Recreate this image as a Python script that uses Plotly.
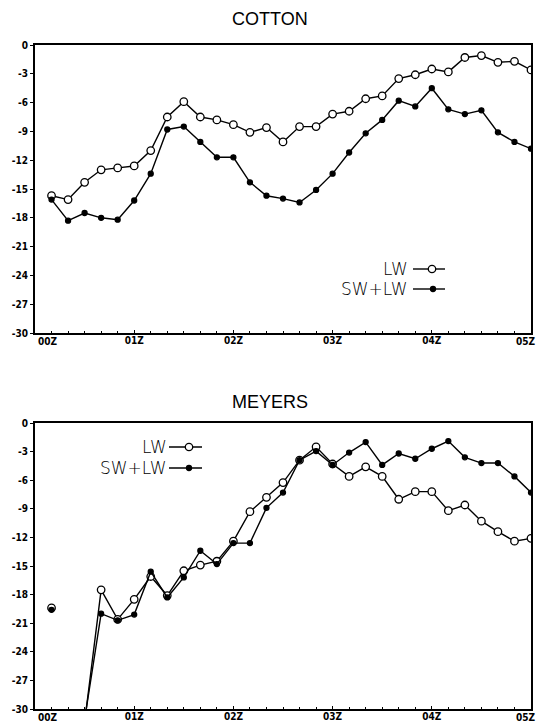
import plotly.graph_objects as go

W, H = 539, 724

# time labels (every 10 minutes, 00:10 .. 05:00)
times = ["00:10", "00:20", "00:30", "00:40", "00:50", "01:00", "01:10", "01:20", "01:30", "01:40",
         "01:50", "02:00", "02:10", "02:20", "02:30", "02:40", "02:50", "03:00", "03:10", "03:20",
         "03:30", "03:40", "03:50", "04:00", "04:10", "04:20", "04:30", "04:40", "04:50", "05:00"]

cotton_lw = [-15.7, -16.1, -14.3, -13.0, -12.8, -12.6, -11.0, -7.5, -5.9, -7.5,
             -7.8, -8.3, -9.1, -8.6, -10.1, -8.5, -8.5, -7.2, -6.9, -5.6,
             -5.3, -3.5, -3.1, -2.5, -2.8, -1.3, -1.1, -1.8, -1.7, -2.6]
cotton_swlw = [-16.1, -18.3, -17.5, -18.0, -18.2, -16.2, -13.4, -8.8, -8.5, -10.1,
               -11.7, -11.7, -14.3, -15.7, -16.0, -16.4, -15.1, -13.4, -11.2, -9.2,
               -7.8, -5.8, -6.4, -4.5, -6.7, -7.2, -6.8, -9.1, -10.1, -10.8]

meyers_lw = [-19.4, None, -31.4, -17.5, -20.6, -18.5, -16.1, -18.1, -15.5, -14.9,
             -14.5, -12.4, -9.3, -7.8, -6.25, -3.9, -2.5, -4.3, -5.6, -4.6,
             -5.6, -8.0, -7.2, -7.2, -9.2, -8.6, -10.3, -11.4, -12.4, -12.1]
meyers_swlw = [-19.6, None, -31.1, -20.0, -20.7, -20.1, -15.6, -18.3, -16.2, -13.4,
               -14.8, -12.6, -12.6, -8.9, -7.3, -3.9, -2.95, -4.4, -3.1, -2.0,
               -4.4, -3.2, -3.75, -2.7, -1.9, -3.6, -4.2, -4.2, -5.6, -7.3]

x_tickvals = [0, 1, 2, 3, 4, 5]
x_ticktext = ["00Z", "01Z", "02Z", "03Z", "04Z", "05Z"]
y_tickvals = [0, -3, -6, -9, -12, -15, -18, -21, -24, -27, -30]
y_ticktext = ["0", "-3", "-6", "-9", "-12", "-15", "-18", "-21", "-24", "-27", "-30"]

hours = [int(t[:2]) + int(t[3:]) / 60 for t in times]

fig = go.Figure()

def add_series(y, xa, ya, filled):
    fig.add_trace(go.Scatter(
        x=hours, y=y, xaxis=xa, yaxis=ya, mode="lines+markers",
        line=dict(color="black", width=1.4),
        marker=dict(symbol="circle", size=5 if filled else 7.5,
                    color="black" if filled else "white",
                    line=dict(color="black", width=1.3)),
        showlegend=False, connectgaps=False))

add_series(cotton_lw, "x", "y", False)
add_series(cotton_swlw, "x", "y", True)
add_series(meyers_lw, "x2", "y2", False)
add_series(meyers_swlw, "x2", "y2", True)

def px2x(p):
    return p / W

def px2y(p):
    return 1 - p / H

tickfont = dict(family="Liberation Sans Narrow, DejaVu Sans Condensed, Arial, sans-serif",
                size=10, color="black", weight="bold")

# the first and last hour labels sit flush with the frame edges, so they are
# placed as edge-aligned annotations; the inner ones come from the axis
inner_text = [""] + x_ticktext[1:-1] + [""]

xcommon = dict(range=[0, 5], tickvals=x_tickvals, ticktext=inner_text, showgrid=False,
               zeroline=False, showline=True, linecolor="black", linewidth=2, mirror=True,
               ticks="inside", ticklen=3, tickcolor="black", tickfont=tickfont,
               automargin=False, ticklabelstandoff=-3,
               minor=dict(ticks="inside", ticklen=2, tickcolor="black", dtick=1 / 6))
ycommon = dict(range=[-30, 0], tickvals=y_tickvals, ticktext=y_ticktext, showgrid=False,
               zeroline=False, showline=True, linecolor="black", linewidth=2, mirror=True,
               ticks="outside", ticklen=3, tickcolor="black", tickfont=tickfont,
               automargin=False, ticklabeloverflow="allow")

xdom = [px2x(35), px2x(531)]
top_dom = [px2y(333), px2y(45)]
bot_dom = [px2y(709), px2y(423)]
fig.update_layout(
    width=W, height=H,
    margin=dict(l=0, r=0, t=0, b=0),
    paper_bgcolor="white", plot_bgcolor="white",
    xaxis=dict(domain=xdom, anchor="y", **xcommon),
    yaxis=dict(domain=top_dom, anchor="x", **ycommon),
    xaxis2=dict(domain=xdom, anchor="y2", **xcommon),
    yaxis2=dict(domain=bot_dom, anchor="x2", **ycommon),
)

for dom in (top_dom, bot_dom):
    fig.add_annotation(text=x_ticktext[0], x=px2x(36), y=dom[0], yshift=-1,
                       xref="paper", yref="paper", showarrow=False, font=tickfont,
                       xanchor="left", yanchor="top")
    fig.add_annotation(text=x_ticktext[-1], x=px2x(538), y=dom[0], yshift=-1,
                       xref="paper", yref="paper", showarrow=False, font=tickfont,
                       xanchor="right", yanchor="top")

titlefont = dict(family="Liberation Sans, Arial, sans-serif", size=18, color="black")
fig.add_annotation(text="COTTON", x=px2x(270), y=px2y(19), xref="paper", yref="paper",
                   showarrow=False, font=titlefont, xanchor="center", yanchor="middle")
fig.add_annotation(text="MEYERS", x=px2x(270), y=px2y(402), xref="paper", yref="paper",
                   showarrow=False, font=titlefont, xanchor="center", yanchor="middle")

legfont = dict(family="DejaVu Sans, Liberation Sans, sans-serif", size=17, color="black",
               weight=200)

def legend_entry(label, text_right, yc, line_x0, line_x1, mx, filled):
    fig.add_annotation(text=label, x=px2x(text_right), y=px2y(yc), xref="paper", yref="paper",
                       showarrow=False, font=legfont, xanchor="right", yanchor="middle")
    fig.add_shape(type="line", xref="paper", yref="paper",
                  x0=px2x(line_x0), x1=px2x(line_x1), y0=px2y(yc), y1=px2y(yc),
                  line=dict(color="black", width=1.4))
    r = 2.5 if filled else 3.7
    fig.add_shape(type="circle", xref="paper", yref="paper",
                  xsizemode="pixel", ysizemode="pixel",
                  xanchor=px2x(mx), yanchor=px2y(yc),
                  x0=-r, x1=r, y0=-r, y1=r,
                  fillcolor="black" if filled else "white",
                  line=dict(color="black", width=1.3))

legend_entry("LW", 410, 269, 413, 445, 432, False)
legend_entry("SW+LW", 410, 289, 413, 445, 433, True)
legend_entry("LW", 169, 447, 169, 202, 189, False)
legend_entry("SW+LW", 169, 468, 169, 202, 189, True)

fig.write_html("out.html")
